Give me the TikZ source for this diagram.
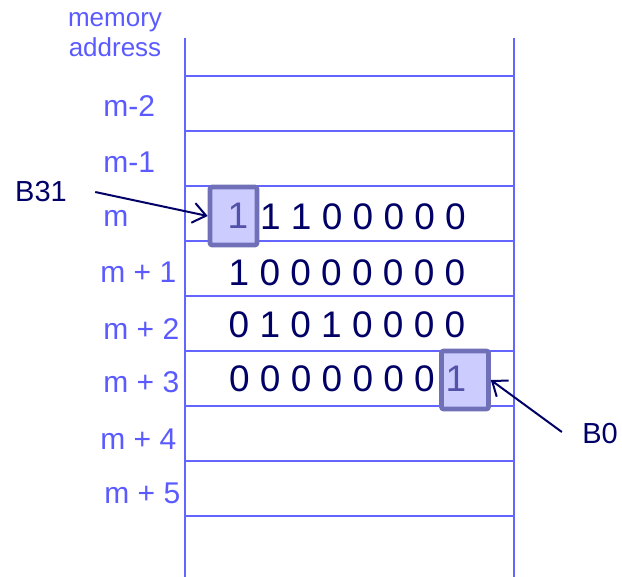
\documentclass[tikz,border=0pt]{standalone}
\usepackage{fontspec}
\setmainfont{Liberation Sans}
\usetikzlibrary{arrows.meta, positioning}
\definecolor{AddrInk}{HTML}{5A5AFF}
\definecolor{GridInk}{HTML}{6464FF}
\definecolor{BitInk}{HTML}{000066}
\definecolor{BoxFill}{HTML}{CCCCFF}
\definecolor{BoxEdge}{HTML}{7070B8}
\definecolor{BoxBit}{HTML}{5252A8}

\begin{document}
\begin{tikzpicture}[
    x=0.5pt, y=-0.5pt,
    grid/.style={draw=GridInk, line width=1pt},
    addr/.style={
      text=AddrInk,
      font=\fontsize{15}{18}\selectfont,
      anchor=west,
      inner sep=0pt,
    },
    bits/.style={
      text=BitInk,
      font=\fontsize{18.5}{22}\selectfont,
      inner sep=0pt,
    },
    bitbox/.style={
      draw=BoxEdge,
      fill=BoxFill,
      line width=2.3pt,
      rounded corners=1pt,
      minimum width=23.5pt,
      minimum height=29pt,
      inner sep=0pt,
    },
    boxbit/.style={bits, text=BoxBit},
    tag/.style={
      text=BitInk,
      font=\fontsize{14.5}{17}\selectfont,
      inner sep=0pt,
    },
    ptr/.style={
      draw=BitInk,
      line width=1pt,
      -{Straight Barb[length=6.5pt, width=10pt]},
    },
  ]
    \useasboundingbox (0,0) rectangle (622,577);

    % memory cells
    \draw[grid] (185,38) -- (185,577);
    \draw[grid] (514,38) -- (514,577);
    \foreach \y in {76,131,...,516}
      \draw[grid] (185,\y) -- (514,\y);

    % address column
    \node[text=AddrInk, font=\fontsize{13}{15}\selectfont, align=center,
      inner sep=0pt] (addrhead) at (115,35) {memory\\address};
    \foreach \name/\x/\y [count=\i] in {m-2/103/106, m-1/103/162, m/103/218,
        m + 1/100/272, m + 2/103/329, m + 3/103/382, m + 4/100/439,
        m + 5/104/493}
      \node[addr] (addr\i) at (\x,\y) {\name};

    % stored bits
    \node[bits] (row0) at (363,217) {1 1 0 0 0 0 0};
    \node[bits] (row1) at (347,273) {1 0 0 0 0 0 0 0};
    \node[bits] (row2) at (347,325) {0 1 0 1 0 0 0 0};
    \node[bits] (row3) at (332,379) {0 0 0 0 0 0 0};

    % highlighted bits
    \node[bitbox] (bhi) at (233.5,216) {};
    \node[boxbit] (bhibit) at (238,216) {1};
    \node[bitbox] (blo) at (465,380) {};
    \node[boxbit] (blobit) at (456,379) {1};

    % pointers
    \node[tag] (taghi) at (41,192) {B31};
    \node[tag] (taglo) at (600,434) {B0};
    \draw[ptr] ([xshift=14pt]taghi.east) -- (bhi.west);
    \draw[ptr] ([xshift=-10pt,yshift=1pt]taglo.west) -- (blo.east);
  \end{tikzpicture}
\end{document}
